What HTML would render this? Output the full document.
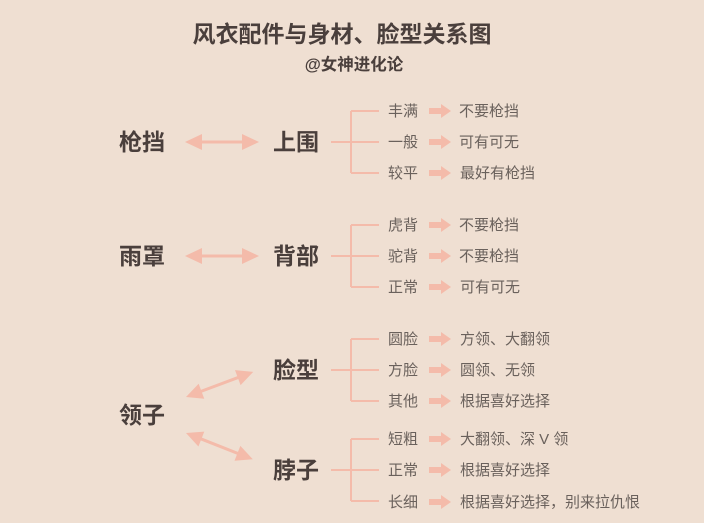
<!DOCTYPE html>
<html><head><meta charset="utf-8"><style>
html,body{margin:0;padding:0;background:#efdfd2;}
svg{display:block}
text{font-family:"Liberation Sans","Noto Sans CJK SC",sans-serif;}
.t{font-size:23px;font-weight:bold;fill:#4a3f3c;text-anchor:middle}
.s{font-size:16.5px;font-weight:bold;fill:#4a3f3c;text-anchor:middle}
.b{font-size:23px;font-weight:bold;fill:#4a3f3c}
.i{font-size:15px;fill:#6a615c}
</style></head><body>
<svg width="704" height="523" viewBox="0 0 704 523">
<defs>
<g id="sa"><rect x="0" y="-3" width="13" height="6" fill="#f4bbaa"/><polygon points="12,-7 22,0 12,7" fill="#f4bbaa"/></g>
<g id="da"><rect x="15" y="-1.5" width="44" height="3" fill="#f4bbaa"/><polygon points="0,0 17,-8 17,8" fill="#f4bbaa"/><polygon points="74,0 57,-8 57,8" fill="#f4bbaa"/></g>
<g id="br" fill="none" stroke="#f4bbaa" stroke-width="2"><path d="M331 0H351M351 -31V31M351 -31H379M351 0H379M351 31H379"/></g>
</defs>
<text class="t" x="342" y="42">风衣配件与身材、脸型关系图</text>
<text class="s" x="354" y="70">@女神进化论</text>

<text class="b" x="119" y="150">枪挡</text>
<use href="#da" x="185" y="142"/>
<text class="b" x="273" y="150">上围</text>
<use href="#br" y="142"/>

<text class="b" x="119" y="264">雨罩</text>
<use href="#da" x="185" y="256"/>
<text class="b" x="273" y="264">背部</text>
<use href="#br" y="256"/>

<text class="b" x="119" y="423">领子</text>
<g transform="translate(186,397) rotate(-20.5)"><use href="#da" transform="scale(0.97,1)"/></g>
<g transform="translate(186,433) rotate(21.5)"><use href="#da" transform="scale(0.97,1)"/></g>
<text class="b" x="273" y="378">脸型</text>
<use href="#br" y="370"/>
<text class="b" x="273" y="478">脖子</text>
<use href="#br" y="470"/>

<g>
<text class="i" x="388" y="116">丰满</text><use href="#sa" x="429" y="111"/><text class="i" x="459" y="116">不要枪挡</text>
<text class="i" x="388" y="147">一般</text><use href="#sa" x="429" y="142"/><text class="i" x="459" y="147">可有可无</text>
<text class="i" x="388" y="178">较平</text><use href="#sa" x="429" y="173"/><text class="i" x="460" y="178">最好有枪挡</text>

<text class="i" x="388" y="230">虎背</text><use href="#sa" x="429" y="225"/><text class="i" x="459" y="230">不要枪挡</text>
<text class="i" x="388" y="261">驼背</text><use href="#sa" x="429" y="256"/><text class="i" x="459" y="261">不要枪挡</text>
<text class="i" x="388" y="292">正常</text><use href="#sa" x="429" y="287"/><text class="i" x="460" y="292">可有可无</text>

<text class="i" x="388" y="344">圆脸</text><use href="#sa" x="429" y="339"/><text class="i" x="460" y="344">方领、大翻领</text>
<text class="i" x="388" y="375">方脸</text><use href="#sa" x="429" y="370"/><text class="i" x="460" y="375">圆领、无领</text>
<text class="i" x="388" y="406">其他</text><use href="#sa" x="429" y="401"/><text class="i" x="460" y="406">根据喜好选择</text>

<text class="i" x="388" y="444">短粗</text><use href="#sa" x="429" y="439"/><text class="i" x="460" y="444">大翻领、深 V 领</text>
<text class="i" x="388" y="475">正常</text><use href="#sa" x="429" y="470"/><text class="i" x="460" y="475">根据喜好选择</text>
<text class="i" x="388" y="507">长细</text><use href="#sa" x="429" y="502"/><text class="i" x="460" y="507">根据喜好选择，别来拉仇恨</text>
</g>
</svg>
</body></html>
